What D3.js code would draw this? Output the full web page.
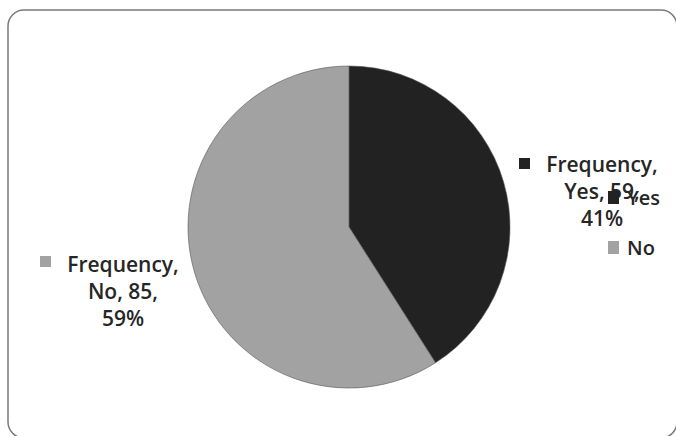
<!DOCTYPE html>
<html>
<head>
<meta charset="utf-8">
<script src="https://cdn.jsdelivr.net/npm/d3@7"></script>
<style>
  html, body { margin: 0; padding: 0; background: #fff; }
  svg { display: block; }
  text { font-family: "Open Sans", "Liberation Sans", sans-serif; font-weight: 600; fill: #262626; }
</style>
</head>
<body>
<svg id="chart" width="676" height="436"></svg>
<script>
const seriesName = "Frequency";
const categories = ["Yes", "No"];
const values = [59, 85];
const colors = ["#222222", "#a2a2a2"];

const svg = d3.select("#chart");

// chart frame
svg.append("rect")
  .attr("x", 8).attr("y", 10)
  .attr("width", 669).attr("height", 428)
  .attr("rx", 16).attr("ry", 16)
  .attr("fill", "#fff")
  .attr("stroke", "#7a7a7a").attr("stroke-width", 1.5);

const cx = 349, cy = 227, r = 161;
const total = d3.sum(values);
const data = categories.map((c, i) => ({ cat: c, value: values[i], color: colors[i] }));

const pie = d3.pie().value(d => d.value).sort(null);
const arc = d3.arc().innerRadius(0).outerRadius(r);
const arcs = pie(data);

const g = svg.append("g").attr("transform", `translate(${cx},${cy})`);
g.selectAll("path").data(arcs).enter().append("path")
  .attr("d", arc)
  .attr("fill", d => d.data.color)
  .attr("stroke", "#555").attr("stroke-width", 0.6);

// data labels (with legend key)
const labelPos = [
  { x: 602, y0: 172, key: [519, 158] },
  { x: 123, y0: 272, key: [40, 256] }
];
const lh = 27;
arcs.forEach((a, i) => {
  const d = a.data;
  const pct = Math.round(d.value / total * 100);
  const lines = [`${seriesName},`, `${d.cat}, ${d.value},`, `${pct}%`];
  const p = labelPos[i];
  svg.append("rect").attr("x", p.key[0]).attr("y", p.key[1])
    .attr("width", 11).attr("height", 11).attr("fill", d.color);
  const t = svg.append("text").attr("text-anchor", "middle").style("font-size", "21px");
  lines.forEach((ln, j) => {
    t.append("tspan").attr("x", p.x).attr("y", p.y0 + j * lh).text(ln);
  });
});

// legend
const legend = svg.append("g");
categories.forEach((c, i) => {
  const y = 205 + i * 50;
  legend.append("rect").attr("x", 608).attr("y", y - 14)
    .attr("width", 11).attr("height", 13).attr("fill", colors[i]);
  legend.append("text").attr("x", 627).attr("y", y)
    .style("font-size", "20px").text(c);
});
</script>
</body>
</html>
